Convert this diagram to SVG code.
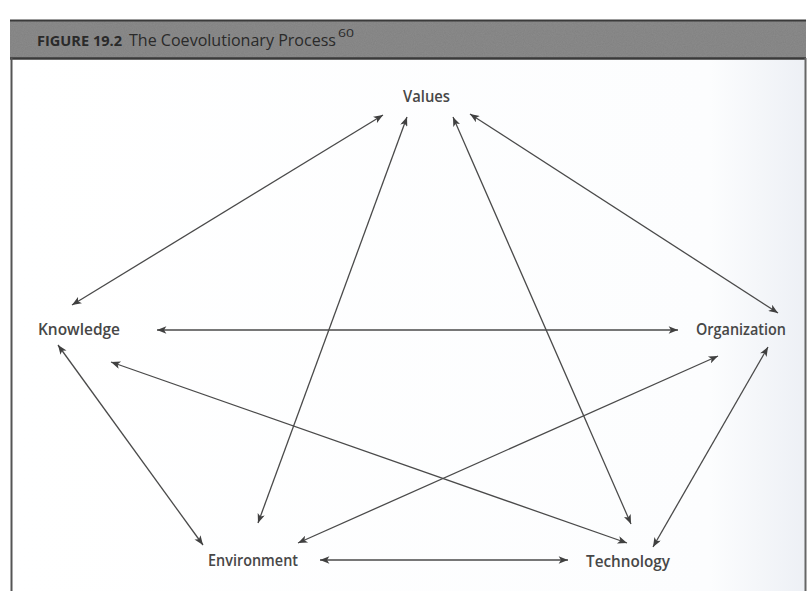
<svg xmlns="http://www.w3.org/2000/svg" width="808" height="591" viewBox="0 0 808 591">
<style>
.lbl{font-family:"Open Sans","Noto Sans","Liberation Sans",sans-serif;font-size:16px;font-weight:600;fill:#474747}
.conn line{stroke:#4a4a4a;stroke-width:1.3;marker-start:url(#ah);marker-end:url(#ah)}
.ttl{font-family:"Open Sans","Noto Sans","Liberation Sans",sans-serif;fill:#2a2a2a}
</style>
<defs>
<marker id="ah" viewBox="0 0 10 8" refX="10" refY="4" markerWidth="12" markerHeight="7.5" markerUnits="userSpaceOnUse" orient="auto-start-reverse">
<path d="M0,0 L10,4 L0,8 L2.5,4 z" fill="#404040"/>
</marker>
<linearGradient id="bg" x1="0" y1="0" x2="1" y2="0">
<stop offset="0" stop-color="#ffffff"/>
<stop offset="0.88" stop-color="#fcfdfe"/>
<stop offset="1" stop-color="#edf0f5"/>
</linearGradient>
<filter id="grain" x="0" y="0" width="100%" height="100%">
<feTurbulence type="fractalNoise" baseFrequency="0.9" numOctaves="2" seed="3" result="n"/>
<feColorMatrix in="n" type="matrix" values="0 0 0 0 0.5  0 0 0 0 0.5  0 0 0 0 0.5  0 0 0 0.35 0" result="g"/>
<feComposite in="g" in2="SourceGraphic" operator="in" result="gc"/>
<feBlend in="gc" in2="SourceGraphic" mode="multiply"/>
</filter>
</defs>
<rect x="0" y="0" width="808" height="591" fill="#ffffff"/>
<rect x="12" y="60" width="793" height="531" fill="url(#bg)"/>
<g id="header">
<rect x="10" y="20" width="796" height="39" fill="#8c8c8c" filter="url(#grain)"/>
<line x1="10" y1="20.5" x2="806" y2="20.5" stroke="#3a3a3a" stroke-width="2"/>
<line x1="10" y1="58.5" x2="806" y2="58.5" stroke="#3a3a3a" stroke-width="2.5"/>
<line x1="11.5" y1="58" x2="11.5" y2="591" stroke="#555" stroke-width="2"/>
<line x1="805.5" y1="58" x2="805.5" y2="591" stroke="#666" stroke-width="2"/>
<text class="ttl" y="46"><tspan x="37" font-size="15" font-weight="bold" textLength="85" lengthAdjust="spacingAndGlyphs">FIGURE 19.2</tspan><tspan x="129" font-size="17" textLength="207" lengthAdjust="spacingAndGlyphs">The Coevolutionary Process</tspan></text>
<text class="ttl" x="338" y="37" font-size="10.5" textLength="16" lengthAdjust="spacingAndGlyphs">60</text>
</g>
<g id="connectors" class="conn">
<line x1="383" y1="115" x2="72" y2="305"/>
<line x1="407" y1="117" x2="258" y2="523"/>
<line x1="453" y1="117" x2="631" y2="524"/>
<line x1="470" y1="114" x2="778" y2="313"/>
<line x1="157" y1="330" x2="678" y2="330"/>
<line x1="58" y1="345" x2="203" y2="545"/>
<line x1="111" y1="362" x2="627" y2="543"/>
<line x1="718" y1="356" x2="298" y2="543"/>
<line x1="768" y1="347" x2="653" y2="547"/>
<line x1="320" y1="560" x2="568" y2="560"/>
</g>
<g id="values"><text class="lbl" x="403" y="102" textLength="47" lengthAdjust="spacingAndGlyphs">Values</text></g>
<g id="knowledge"><text class="lbl" x="38" y="335" textLength="82" lengthAdjust="spacingAndGlyphs">Knowledge</text></g>
<g id="organization"><text class="lbl" x="696" y="335" textLength="90" lengthAdjust="spacingAndGlyphs">Organization</text></g>
<g id="environment"><text class="lbl" x="208" y="566" textLength="90" lengthAdjust="spacingAndGlyphs">Environment</text></g>
<g id="technology"><text class="lbl" x="586" y="567" textLength="84" lengthAdjust="spacingAndGlyphs">Technology</text></g>
</svg>
